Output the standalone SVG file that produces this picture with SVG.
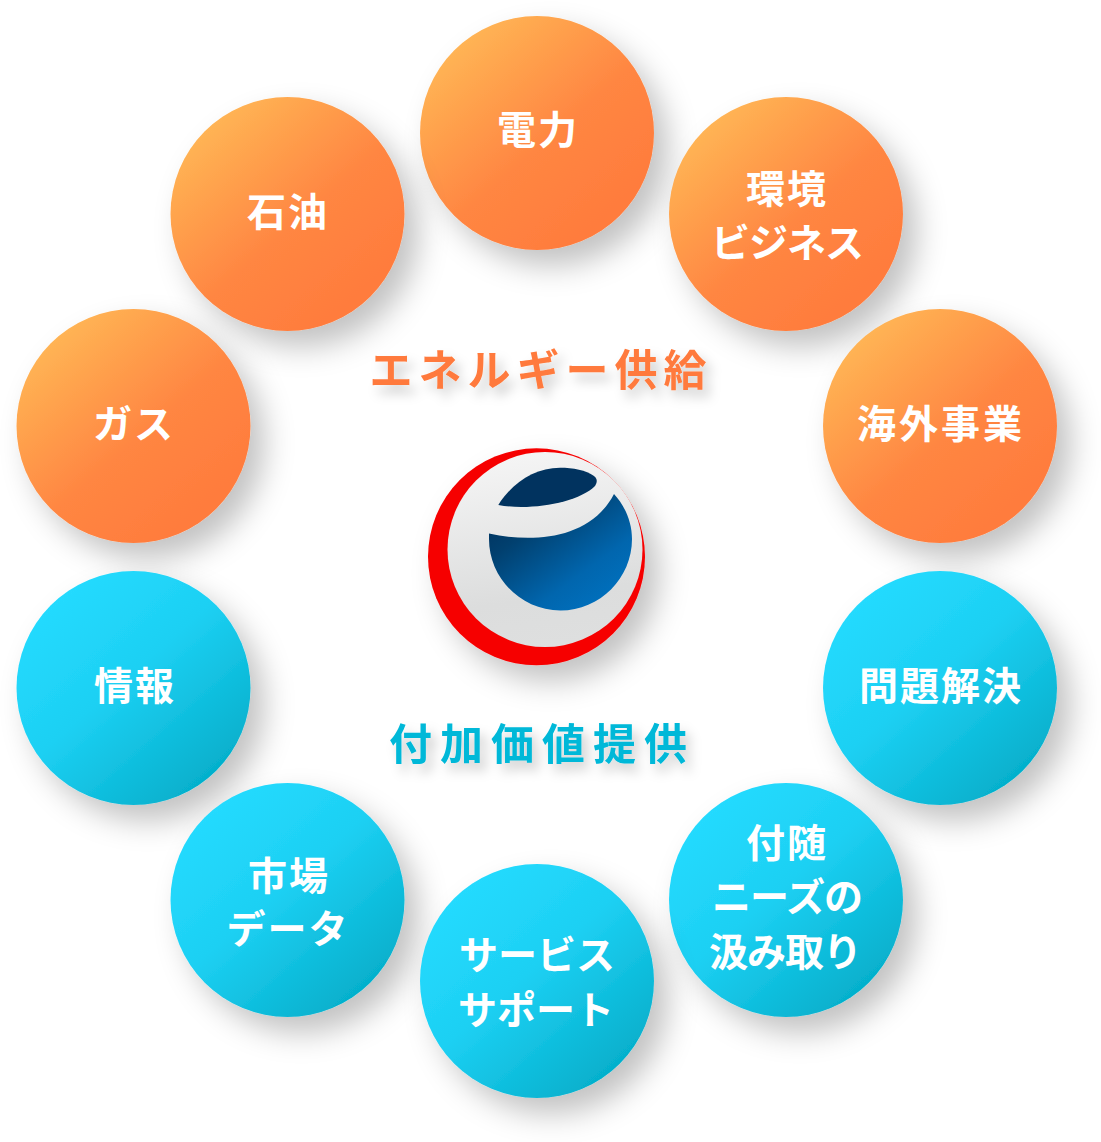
<svg xmlns="http://www.w3.org/2000/svg" width="1101" height="1142" viewBox="0 0 1101 1142">
<style>
.o{fill:url(#og);filter:url(#sh)}
.b{fill:url(#bg);filter:url(#sh)}
text{font-family:"Noto Sans CJK JP","Noto Sans",sans-serif;font-weight:700;text-anchor:middle}
.t{font-size:39px;fill:#fff;letter-spacing:2px}
.k{letter-spacing:-1px}
.s{letter-spacing:0}
.w{letter-spacing:3px}
.h{font-size:43px;filter:url(#ts)}
</style>
<defs>
<linearGradient id="og" x1="0.15" y1="0.1" x2="0.85" y2="0.9"><stop offset="0" stop-color="#ffb655"/><stop offset="0.55" stop-color="#ff8642"/><stop offset="1" stop-color="#ff7a3c"/></linearGradient>
<linearGradient id="bg" x1="0.15" y1="0.1" x2="0.85" y2="0.9"><stop offset="0" stop-color="#25dbff"/><stop offset="0.45" stop-color="#1dd0f3"/><stop offset="1" stop-color="#04aeca"/></linearGradient>
<linearGradient id="gray" x1="0.35" y1="0" x2="0.5" y2="1"><stop offset="0" stop-color="#f5f5f5"/><stop offset="0.75" stop-color="#dcdddd"/><stop offset="1" stop-color="#dedfdf"/></linearGradient>
<linearGradient id="blue" x1="0.1" y1="0.12" x2="0.8" y2="0.9"><stop offset="0" stop-color="#01335f"/><stop offset="0.25" stop-color="#01406f"/><stop offset="0.75" stop-color="#0166ae"/><stop offset="1" stop-color="#006fbc"/></linearGradient>
<filter id="sh" x="-30%" y="-30%" width="180%" height="180%"><feDropShadow dx="14" dy="16" stdDeviation="15" flood-color="#000" flood-opacity="0.24"/></filter>
<filter id="ts" x="-10%" y="-50%" width="120%" height="220%"><feDropShadow dx="6" dy="8" stdDeviation="6" flood-color="#000" flood-opacity="0.2"/></filter>
</defs>
<g id="connectors"/>
<g id="n-denryoku"><circle class="o" cx="537" cy="133" r="117"/><text class="t" x="538" y="144">電力</text></g>
<g id="n-sekiyu"><circle class="o" cx="287.500" cy="214" r="117"/><text class="t" x="288" y="226">石油</text></g>
<g id="n-kankyo"><circle class="o" cx="786" cy="214" r="117"/><text class="t" x="787" y="203">環境</text><text class="t k" x="787" y="257">ビジネス</text></g>
<g id="n-gas"><circle class="o" cx="133.500" cy="426" r="117"/><text class="t" x="134" y="438">ガス</text></g>
<g id="n-kaigai"><circle class="o" cx="940" cy="426" r="117"/><text class="t w" x="941" y="438">海外事業</text></g>
<g id="n-joho"><circle class="b" cx="133.500" cy="688" r="117"/><text class="t" x="135" y="700">情報</text></g>
<g id="n-mondai"><circle class="b" cx="940" cy="688" r="117"/><text class="t" x="941" y="700">問題解決</text></g>
<g id="n-shijo"><circle class="b" cx="287.500" cy="900" r="117"/><text class="t" x="289" y="890">市場</text><text class="t" x="288" y="943">データ</text></g>
<g id="n-fuzui"><circle class="b" cx="786" cy="900" r="117"/><text class="t" x="787" y="857">付随</text><text class="t k" x="787" y="911">ニーズの</text><text class="t k" x="785" y="966">汲み取り</text></g>
<g id="n-service"><circle class="b" cx="537" cy="981" r="117"/><text class="t s" x="537" y="969">サービス</text><text class="t s" x="536" y="1024">サポート</text></g>
<g id="h-energy"><text class="h" x="541" y="386" fill="#ff7a3c" letter-spacing="6">エネルギー供給</text></g>
<g id="h-value"><text class="h" x="542" y="760" fill="#00b8d8" letter-spacing="8">付加価値提供</text></g>
<g id="logo">
<circle cx="536.500" cy="556.800" r="108.500" fill="#f60000" filter="url(#sh)"/>
<circle cx="545" cy="549.500" r="97.500" fill="url(#gray)"/>
<path d="M489 533.500C532 543 590 540 614 494C625 506 632 522 632 539C632 578 600 610.500 560.500 610.500C521 610.500 489 578 489 539Z" fill="url(#blue)"/>
<path d="M498.300 505C513 482 535 467.700 560 467.700C573 467.700 586 470 594 476C598 479 597 483 595 486C578 503 530 511 498.300 505Z" fill="#01335f"/>
</g>
</svg>
